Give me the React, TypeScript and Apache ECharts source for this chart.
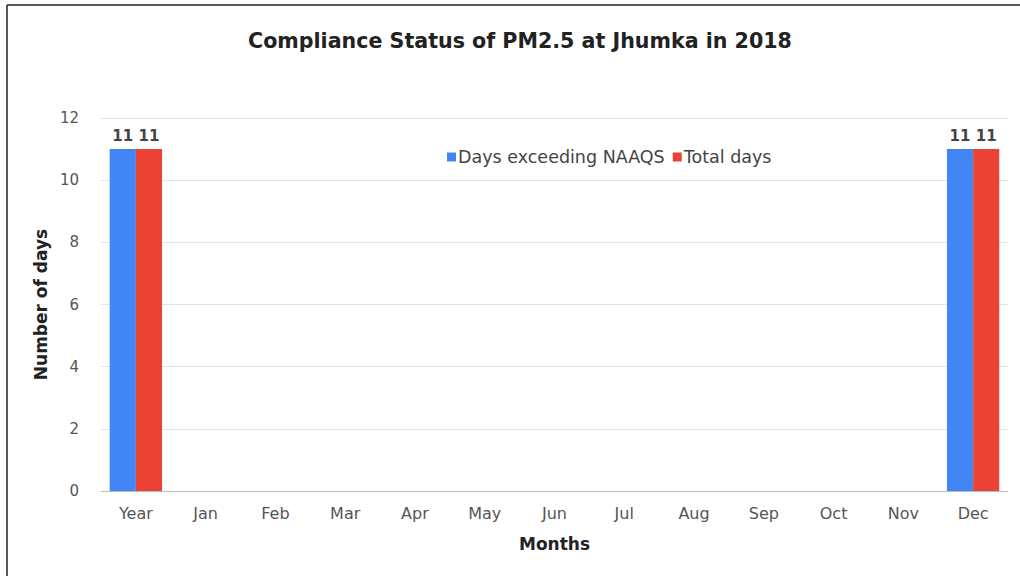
import React, { useEffect, useRef } from "react";
import * as echarts from "echarts";

const categories = ["Year", "Jan", "Feb", "Mar", "Apr", "May", "Jun", "Jul", "Aug", "Sep", "Oct", "Nov", "Dec"];
const daysExceeding = [11, 0, 0, 0, 0, 0, 0, 0, 0, 0, 0, 0, 11];
const totalDays = [11, 0, 0, 0, 0, 0, 0, 0, 0, 0, 0, 0, 11];
const seriesNames = ["Days exceeding NAAQS", "Total days"];

export default function App() {
  const ref = useRef<HTMLDivElement>(null);
  useEffect(() => {
    if (!ref.current) return;
    const chart = echarts.init(ref.current, null, { renderer: "svg" });
    const font = "'DejaVu Sans', Verdana, sans-serif";
    const label = {
      show: true,
      position: "top",
      distance: 6,
      fontSize: 15,
      fontWeight: "bold",
      color: "#444",
      fontFamily: font,
      formatter: (p: any) => (p.value ? String(p.value) : ""),
    };
    chart.setOption({
      animation: false,
      backgroundColor: "#fff",
      textStyle: { fontFamily: font },
      title: {
        text: "Compliance Status of PM2.5 at Jhumka in 2018",
        left: 515,
        textAlign: "center",
        top: 25,
        textStyle: { fontSize: 20.6, fontWeight: "bold", color: "#222", fontFamily: font },
      },
      legend: {
        data: seriesNames,
        left: 442,
        top: 143,
        itemWidth: 9,
        itemHeight: 9,
        itemGap: 8,
        icon: "rect",
        textStyle: { fontSize: 17.5, color: "#444", fontFamily: font, padding: [0, 0, 0, -3] },
      },
      grid: { left: 101, right: 12, top: 118, bottom: 85 },
      xAxis: {
        type: "category",
        data: categories,
        name: "Months",
        nameLocation: "middle",
        nameGap: 44,
        nameTextStyle: { fontSize: 17, fontWeight: "bold", color: "#222", fontFamily: font },
        axisTick: { show: false },
        axisLine: { lineStyle: { color: "#bbb" } },
        axisLabel: { fontSize: 16, color: "#555", margin: 14, fontFamily: font },
      },
      yAxis: {
        type: "value",
        min: 0,
        max: 12,
        interval: 2,
        name: "Number of days",
        nameLocation: "middle",
        nameGap: 42,
        nameTextStyle: { fontSize: 17, fontWeight: "bold", color: "#222", fontFamily: font },
        axisLabel: { fontSize: 15, color: "#555", margin: 22, fontFamily: font },
        splitLine: { lineStyle: { color: "#e3e3e3" } },
      },
      series: [
        {
          name: seriesNames[0],
          type: "bar",
          data: daysExceeding,
          barGap: "0%",
          barCategoryGap: "25%",
          itemStyle: { color: "#4285F4" },
          label,
        },
        {
          name: seriesNames[1],
          type: "bar",
          data: totalDays,
          itemStyle: { color: "#EA4335" },
          label,
        },
      ],
      graphic: [
        { type: "line", shape: { x1: 7, y1: 5, x2: 1020, y2: 5 }, style: { stroke: "#222", lineWidth: 1.5 } },
        { type: "line", shape: { x1: 7, y1: 5, x2: 7, y2: 576 }, style: { stroke: "#222", lineWidth: 1.5 } },
      ],
    });
    return () => chart.dispose();
  }, []);
  return <div ref={ref} style={{ position: "absolute", left: 0, top: 0, width: 1020, height: 576 }} />;
}
